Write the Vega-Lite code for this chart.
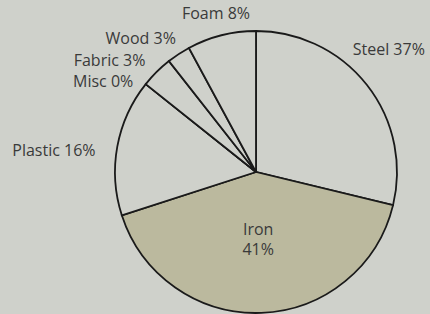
{
  "$schema": "https://vega.github.io/schema/vega-lite/v6.json",
  "width": 282,
  "height": 282,
  "autosize": {"type": "none"},
  "padding": {"left": 115, "top": 31, "right": 33, "bottom": 1},
  "background": "#cfd1cb",
  "config": {"view": {"stroke": null}, "text": {"font": "Open Sans", "fontSize": 16, "color": "#3a3a3a"}},
  "data": {"values": [
    {"i": 1, "name": "Steel", "value": 28.8, "label": "Steel 37%"},
    {"i": 2, "name": "Iron", "value": 41.3, "label": "Iron\n41%"},
    {"i": 3, "name": "Plastic", "value": 15.7, "label": "Plastic 16%"},
    {"i": 4, "name": "Misc", "value": 0, "label": "Misc 0%"},
    {"i": 5, "name": "Fabric", "value": 3.7, "label": "Fabric 3%"},
    {"i": 6, "name": "Wood", "value": 2.7, "label": "Wood 3%"},
    {"i": 7, "name": "Foam", "value": 7.9, "label": "Foam 8%"}
  ]},
  "encoding": {
    "theta": {"field": "value", "type": "quantitative", "stack": true},
    "order": {"field": "i", "type": "quantitative"}
  },
  "layer": [
    {
      "mark": {"type": "arc", "stroke": "#1a1a1a", "strokeWidth": 1.8},
      "encoding": {
        "color": {"field": "name", "type": "nominal", "legend": null,
          "scale": {"domain": ["Steel", "Iron", "Plastic", "Misc", "Fabric", "Wood", "Foam"],
                    "range": ["#cfd1cb", "#bbb99e", "#cfd1cb", "#cfd1cb", "#cfd1cb", "#cfd1cb", "#cfd1cb"]}}
      }
    },
    {
      "mark": {"type": "text", "radius": 157, "align": "right", "baseline": "middle", "dx": -6, "dy": 7},
      "encoding": {
        "text": {"condition": {"test": "datum.name == 'Plastic'", "field": "label"}, "value": ""}
      }
    },
    {
      "mark": {"type": "text", "radius": 157, "align": "right", "baseline": "middle", "dy": 8},
      "encoding": {
        "text": {"condition": {"test": "datum.name == 'Misc'", "field": "label"}, "value": ""}
      }
    },
    {
      "mark": {"type": "text", "radius": 157, "align": "right", "baseline": "middle", "dy": 0},
      "encoding": {
        "text": {"condition": {"test": "datum.name == 'Fabric'", "field": "label"}, "value": ""}
      }
    },
    {
      "mark": {"type": "text", "radius": 157, "align": "right", "baseline": "middle", "dx": 6, "dy": -2},
      "encoding": {
        "text": {"condition": {"test": "datum.name == 'Wood'", "field": "label"}, "value": ""}
      }
    },
    {
      "mark": {"type": "text", "radius": 163, "align": "center", "baseline": "middle"},
      "encoding": {
        "text": {"condition": {"test": "datum.name == 'Foam'", "field": "label"}, "value": ""}
      }
    },
    {
      "mark": {"type": "text", "radius": 160, "align": "left", "baseline": "middle", "dx": -29, "dy": -23},
      "encoding": {
        "text": {"condition": {"test": "datum.name == 'Steel'", "field": "label"}, "value": ""}
      }
    },
    {
      "mark": {"type": "text", "radius": 58, "align": "center", "baseline": "middle", "lineBreak": "\n", "lineHeight": 20},
      "encoding": {
        "text": {"condition": {"test": "datum.name == 'Iron'", "field": "label"}, "value": ""}
      }
    }
  ]
}
